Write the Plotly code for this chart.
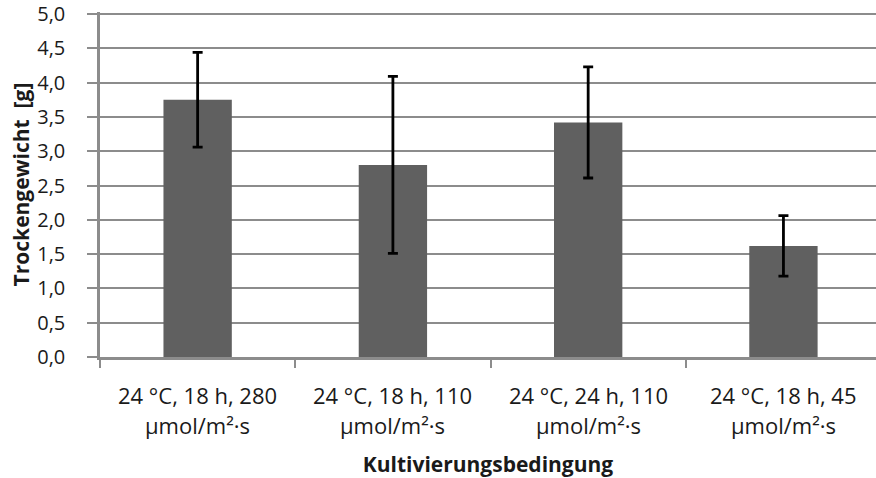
import plotly.graph_objects as go

categories = ["c1", "c2", "c3", "c4"]
label_line1 = ["24 °C, 18 h, 280", "24 °C, 18 h, 110", "24 °C, 24 h, 110", "24 °C, 18 h, 45"]
label_line2 = ["µmol/m²·s", "µmol/m²·s", "µmol/m²·s", "µmol/m²·s"]
values = [3.75, 2.80, 3.42, 1.62]
errors = [0.69, 1.29, 0.81, 0.44]
y_ticks = [0, 0.5, 1, 1.5, 2, 2.5, 3, 3.5, 4, 4.5, 5]
y_tick_labels = ["0,0", "0,5", "1,0", "1,5", "2,0", "2,5", "3,0", "3,5", "4,0", "4,5", "5,0"]

FONT = "Open Sans, sans-serif"
TXT = "#1a1a1a"
GRID = "#8c8c8c"

fig = go.Figure(go.Bar(
    x=categories,
    y=values,
    marker=dict(color="#606060", line=dict(width=0)),
    error_y=dict(type="data", array=errors, visible=True,
                 color="black", thickness=2.8, width=5),
))

# two-line category labels, placed under each category
for cat, l1, l2 in zip(categories, label_line1, label_line2):
    fig.add_annotation(x=cat, xref="x", y=0, yref="paper", text=l1, showarrow=False,
                       yanchor="middle", yshift=-38, font=dict(size=22, color=TXT, family=FONT))
    fig.add_annotation(x=cat, xref="x", y=0, yref="paper", text=l2, showarrow=False,
                       yanchor="middle", yshift=-68, font=dict(size=22, color=TXT, family=FONT))

# plot area at x 100-876 (last category runs slightly past the right edge), y 12-357
fig.update_layout(
    width=876, height=478,
    margin=dict(l=100, r=0, t=12, b=121, autoexpand=False),
    paper_bgcolor="white", plot_bgcolor="white",
    bargap=0.65,
    showlegend=False,
    font=dict(family=FONT, color=TXT),
)
fig.update_xaxes(
    type="category",
    range=[-0.5, 3.474],
    tickson="boundaries",
    ticks="outside", ticklen=8, tickwidth=2, tickcolor=GRID,
    showline=True, linecolor=GRID, linewidth=2.5,
    showgrid=False,
    showticklabels=False,
    automargin=False,
    title=dict(text="<b>Kultivierungsbedingung</b>", font=dict(size=21, color=TXT, family=FONT), standoff=99),
)
fig.update_yaxes(
    range=[0, 5.03],
    tickvals=y_ticks, ticktext=y_tick_labels,
    ticks="outside", ticklen=10, tickwidth=2, tickcolor=GRID,
    showline=True, linecolor=GRID, linewidth=2.5,
    showgrid=True, gridcolor=GRID, gridwidth=2.2,
    zeroline=False,
    tickfont=dict(size=20, color=TXT, family=FONT),
    ticklabelstandoff=18,
    ticklabeloverflow="allow",
    automargin=False,
    title=dict(text="<b>Trockengewicht  [g]</b>", font=dict(size=21, color=TXT, family=FONT), standoff=2),
)

fig.write_html(
    "out.html",
    config={"displayModeBar": False},
    post_script="document.body.style.margin='0';document.body.style.overflow='hidden';",
)
